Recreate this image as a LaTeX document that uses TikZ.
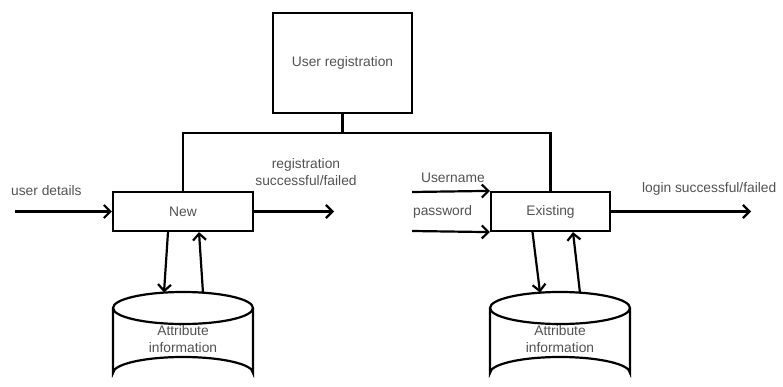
\documentclass[tikz,border=0pt]{standalone}
\usepackage{fontspec}
\setmainfont{Liberation Sans}
\usetikzlibrary{arrows.meta}
\begin{document}
\begin{tikzpicture}[x=1pt,y=-1pt,
  line width=2.2pt, line join=miter,
  lbl/.style={text=black!68, font=\fontsize{13.8}{15}\selectfont, inner sep=0pt},
  procbox/.style={draw, minimum width=140pt, minimum height=39pt, inner sep=0pt, lbl},
  flow/.style={-{Straight Barb[length=6.5pt,width=13pt,line width=2.2pt]}},
]
\useasboundingbox (0,0) rectangle (783,387);
\clip (0,0) rectangle (783,387);

% processes
\node[procbox, minimum width=139pt, minimum height=100pt] (reg) at (342.5,63) {User registration};
\node[procbox] (new) at (183,211.5) {New};
\node[procbox, minimum width=119pt] (exist) at (550.5,211.5) {Existing};

% tree linking the registration box to both processes
\coordinate (bus) at (342.5,133);
\draw (reg.south) -- (bus);
\draw (new.north) |- (bus) -| (exist.north);

% data stores
\foreach \n/\cx in {db1/183, db2/560}{
  \draw (\cx,308) ellipse [x radius=70, y radius=16];
  \draw (\cx-70,308) -- (\cx-70,373) arc [start angle=180, end angle=360, x radius=70, y radius=16] -- (\cx+70,308);
  \node[lbl, align=center] (\n) at (\cx,339) {Attribute\\[2pt]information};
}

% store access points on the top rims
\coordinate (db1in)  at (164,292.5);
\coordinate (db1out) at (203,293);
\coordinate (db2in)  at (540,292.5);
\coordinate (db2out) at (580,293);

% input / output flows of "New"
\coordinate (udin) at (15,211.5);
\coordinate (regout) at (334,211.5);
\draw[flow] (udin) -- (new.west);
\draw[flow] (new.east) -- (regout);
\draw[flow] ([xshift=-15pt]new.south) -- (db1in);
\draw[flow] (db1out) -- ([xshift=16pt]new.south);

% input / output flows of "Existing"
\coordinate (unin) at (412,192);
\coordinate (pwin) at (412,231);
\coordinate (logout) at (751,211.5);
\draw[flow] (unin) -- (exist.north west);
\draw[flow] (pwin) -- (exist.south west);
\draw[flow] (exist.east) -- (logout);
\draw[flow] ([xshift=-18pt]exist.south) -- (db2in);
\draw[flow] (db2out) -- ([xshift=22.5pt]exist.south);

% flow labels
\node[lbl, anchor=west] (ud) at (10,191) {user details};
\node[lbl, align=center] (rs) at (306,172) {registration\\[2pt]successful/failed};
\node[lbl, anchor=west] (un) at (420,178) {Username};
\node[lbl, anchor=west] (pw) at (412,212) {password};
\node[lbl, anchor=west] (ls) at (641,189) {login successful/failed};
\end{tikzpicture}
\end{document}
